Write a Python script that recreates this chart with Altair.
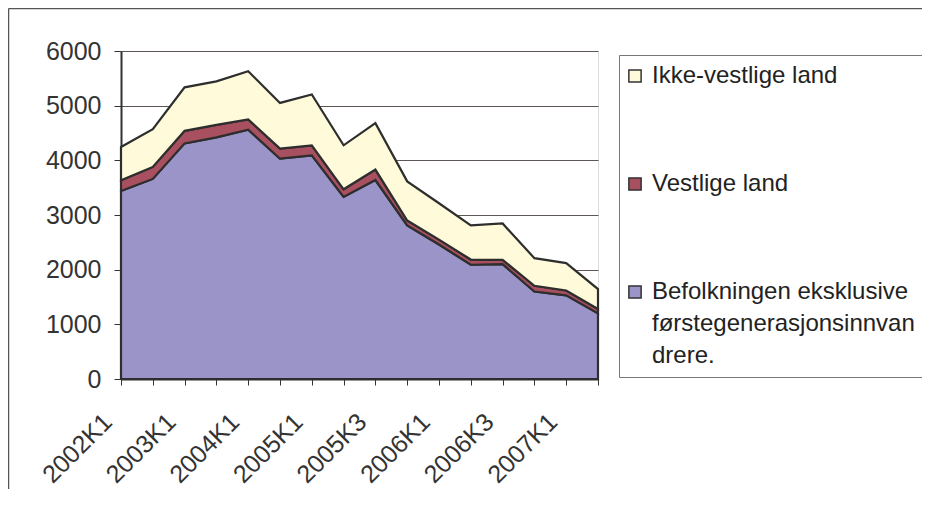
import altair as alt
import pandas as pd

quarters = ["2002K1", "2002K3", "2003K1", "2003K3", "2004K1", "2004K3",
            "2005K1", "2005K2", "2005K3", "2005K4", "2006K1", "2006K2",
            "2006K3", "2006K4", "2007K1", "2007K2"]
shown_labels = ["2002K1", "2003K1", "2004K1", "2005K1", "2005K3",
                "2006K1", "2006K3", "2007K1"]

series_names = ["Ikke-vestlige land", "Vestlige land",
                "Befolkningen eksklusive førstegenerasjonsinnvandrere."]
legend_lines = ["Befolkningen eksklusive", "førstegenerasjonsinnvan", "drere."]

befolkning = [3440, 3660, 4310, 4420, 4560, 4030, 4090, 3330,
              3640, 2810, 2460, 2090, 2100, 1600, 1530, 1200]
vestlige = [195, 220, 230, 230, 190, 185, 185, 140,
            190, 90, 90, 95, 80, 105, 90, 80]
ikke_vestlige = [610, 690, 795, 795, 880, 835, 930, 805,
                 850, 715, 665, 625, 665, 505, 500, 365]

colors = ["#FFFBDA", "#A84F60", "#9A94C8"]
y_ticks = [0, 1000, 2000, 3000, 4000, 5000, 6000]

rows = []
for order, (name, vals) in enumerate([(series_names[2], befolkning),
                                      (series_names[1], vestlige),
                                      (series_names[0], ikke_vestlige)]):
    for q, v in zip(quarters, vals):
        rows.append({"quarter": q, "series": name, "value": v, "stack_order": order})
df = pd.DataFrame(rows)

FONT = "Liberation Sans"

shown_js = "[" + ",".join("'%s'" % s for s in shown_labels) + "]"
x_label_expr = "indexof(%s, datum.value) >= 0 ? datum.label : ''" % shown_js
lines_js = "[" + ",".join("'%s'" % s for s in legend_lines) + "]"
legend_label_expr = "datum.label == '%s' ? %s : datum.label" % (series_names[2], lines_js)

area = alt.Chart(df).mark_area(
    stroke="#2E2E2E", strokeWidth=2.2, strokeJoin="miter", opacity=1
).encode(
    x=alt.X("quarter:N", sort=quarters, title=None,
            scale=alt.Scale(type="point", padding=0),
            axis=alt.Axis(labelExpr=x_label_expr, labelAngle=-45, labelAlign="right",
                          labelBaseline="top", labelPadding=24, labelOffset=-22,
                          labelFont=FONT, labelFontSize=25, labelColor="#333333",
                          tickSize=6, tickColor="#333333", tickWidth=1,
                          domainColor="#333333", domainWidth=2, grid=False,
                          labelOverlap=False)),
    y=alt.Y("value:Q", stack="zero", title=None,
            scale=alt.Scale(domain=[0, 6000], nice=False),
            axis=alt.Axis(values=y_ticks, format="d", labelFont=FONT, labelFontSize=25,
                          labelColor="#333333", labelPadding=13, tickSize=7,
                          tickColor="#333333", tickWidth=1, domainColor="#333333",
                          domainWidth=2, grid=True, gridColor="#5E5555", gridWidth=1)),
    color=alt.Color("series:N",
                    scale=alt.Scale(domain=series_names, range=colors),
                    legend=alt.Legend(title=None, orient="none", legendX=498, legendY=4,
                                      direction="vertical", symbolType="square",
                                      symbolSize=150, symbolStrokeColor="#333333",
                                      symbolStrokeWidth=1.5, symbolOffset=-5,
                                      labelFont=FONT, labelFontSize=24,
                                      labelColor="#222222", labelLimit=600,
                                      rowPadding=84, padding=9,
                                      strokeColor="#777777", fillColor="white",
                                      labelOffset=5, labelExpr=legend_label_expr)),
    order=alt.Order("stack_order:Q"),
)

frame_df = pd.DataFrame({"k": [0]})
top_rule = alt.Chart(frame_df).mark_rule(color="#555555", strokeWidth=1.5).encode(
    x=alt.value(-112.5), x2=alt.value(900), y=alt.value(-42.5))
left_rule = alt.Chart(frame_df).mark_rule(color="#555555", strokeWidth=1.5).encode(
    x=alt.value(-112.5), y=alt.value(-42.5), y2=alt.value(500))

chart = alt.layer(area, top_rule, left_rule).properties(
    width=477, height=328,
    autosize=alt.AutoSizeParams(type="none"),
    padding={"left": 113, "top": 43, "right": 324, "bottom": 110},
    background="white",
).configure_view(
    fill="#C1B8B6", stroke="#8C8484", strokeWidth=2
).configure(
    font=FONT,
    style={"guide-label": {"lineHeight": 32}},
)

chart.save("out.html", embed_options={"renderer": "svg", "actions": False})
